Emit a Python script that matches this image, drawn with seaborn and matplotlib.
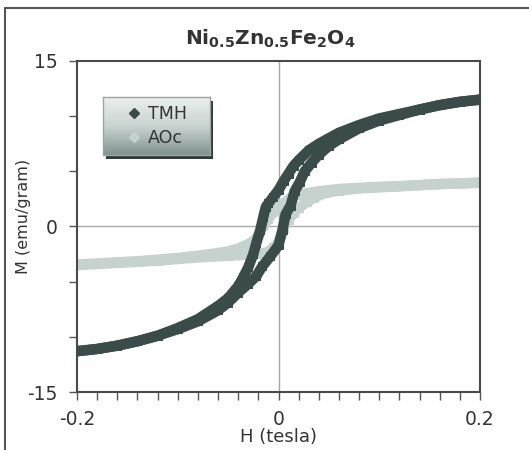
import numpy as np
import pandas as pd
import matplotlib
matplotlib.use("Agg")
import matplotlib.pyplot as plt
import seaborn as sns
from matplotlib.lines import Line2D
from matplotlib.patches import Rectangle
from matplotlib.ticker import MultipleLocator
from matplotlib.colors import LinearSegmentedColormap

# ---------------- data ----------------
series_names = ["TMH", "AOc"]
series_colors = {"TMH": "#3a4c4a", "AOc": "#c6d2ce"}

tmh_desc_H = [0.2, 0.18, 0.16, 0.14, 0.12, 0.10, 0.08, 0.06, 0.05, 0.04, 0.03, 0.02, 0.015, 0.01,
              0.005, 0.0, -0.005, -0.01, -0.0125, -0.015, -0.018, -0.022, -0.025, -0.03, -0.035,
              -0.04, -0.05, -0.06, -0.08, -0.10, -0.12, -0.14, -0.16, -0.18, -0.2]
tmh_desc_M = [11.5, 11.3, 11.0, 10.6, 10.2, 9.8, 9.2, 8.5, 8.0, 7.5, 6.9, 6.0, 5.5, 4.8,
              4.1, 3.3, 2.7, 2.1, 1.8, 0.9, -0.3, -1.5, -2.5, -3.7, -4.6,
              -5.4, -6.5, -7.2, -8.4, -9.2, -9.9, -10.4, -10.8, -11.1, -11.3]

tmh_asc_H = [-0.2, -0.18, -0.16, -0.14, -0.12, -0.10, -0.08, -0.06, -0.05, -0.04, -0.03, -0.022,
             -0.016, -0.008, 0.0, 0.004, 0.007, 0.012, 0.016, 0.021, 0.026, 0.033, 0.04, 0.05,
             0.06, 0.08, 0.10, 0.12, 0.14, 0.16, 0.18, 0.2]
tmh_asc_M = [-11.3, -11.1, -10.8, -10.4, -9.9, -9.3, -8.6, -7.6, -6.9, -6.0, -5.2, -4.5,
             -3.6, -2.7, -1.7, -0.3, 1.1, 1.9, 3.2, 4.0, 5.0, 5.8, 6.5, 7.3,
             7.9, 8.9, 9.6, 10.1, 10.6, 11.0, 11.3, 11.5]

aoc_desc_H = [0.2, 0.18, 0.16, 0.14, 0.12, 0.10, 0.08, 0.06, 0.05, 0.04, 0.03, 0.02, 0.012, 0.005,
              0.0, -0.005, -0.01, -0.015, -0.02, -0.025, -0.03, -0.04, -0.05, -0.06, -0.08,
              -0.10, -0.12, -0.14, -0.16, -0.18, -0.2]
aoc_desc_M = [4.0, 3.9, 3.85, 3.75, 3.65, 3.6, 3.5, 3.4, 3.3, 3.2, 3.05, 2.9, 2.6, 2.1,
              1.7, 1.3, 0.7, 0.0, -0.8, -1.3, -1.6, -2.0, -2.25, -2.4, -2.65,
              -2.85, -3.0, -3.15, -3.25, -3.35, -3.45]

aoc_asc_H = [-0.2, -0.18, -0.16, -0.14, -0.12, -0.10, -0.08, -0.06, -0.05, -0.04, -0.03, -0.02,
             -0.01, -0.005, 0.0, 0.005, 0.01, 0.015, 0.02, 0.028, 0.035, 0.045, 0.06, 0.08,
             0.10, 0.12, 0.14, 0.16, 0.18, 0.2]
aoc_asc_M = [-3.5, -3.4, -3.3, -3.2, -3.1, -2.95, -2.8, -2.7, -2.65, -2.6, -2.55, -2.5,
             -2.3, -1.9, -1.4, -0.1, 0.6, 1.2, 1.7, 2.2, 2.6, 3.0, 3.25, 3.45,
             3.55, 3.65, 3.75, 3.85, 3.9, 3.95]

title_text = r"$\mathbf{Ni_{0.5}Zn_{0.5}Fe_{2}O_{4}}$"
x_label = "H (tesla)"
y_label = "M (emu/gram)"
x_ticks = [-0.2, 0.0, 0.2]
x_tick_labels = ["-0.2", "0", "0.2"]
y_ticks = [-15, 0, 15]
y_tick_labels = ["-15", "0", "15"]

frames = []
for name, branch, H, M in [("AOc", "desc", aoc_desc_H, aoc_desc_M),
                           ("AOc", "asc", aoc_asc_H, aoc_asc_M),
                           ("TMH", "desc", tmh_desc_H, tmh_desc_M),
                           ("TMH", "asc", tmh_asc_H, tmh_asc_M)]:
    frames.append(pd.DataFrame({"H": H, "M": M, "series": name, "branch": branch}))
df = pd.concat(frames, ignore_index=True)

# ---------------- figure ----------------
sns.set_theme(style="white")
plt.rcParams["font.family"] = ["DejaVu Sans"]
plt.rcParams["mathtext.fontset"] = "dejavusans"

W, Hh = 529, 450
fig = plt.figure(figsize=(W / 100, Hh / 100), dpi=100)
fig.patch.set_facecolor("white")
ax = fig.add_axes([77 / W, 1 - 392 / Hh, 403 / W, 331 / Hh])
ax.set_facecolor("white")

ax.axhline(0, color="#a8a8a8", lw=1.0, zorder=0)
ax.axvline(0, color="#a8a8a8", lw=1.0, zorder=0)

for (name, branch), sub in df.groupby(["series", "branch"], sort=False):
    c = series_colors[name]
    sns.lineplot(data=sub, x="H", y="M", sort=False, estimator=None, color=c,
                 lw=7.5, marker="s", markersize=6, markeredgecolor=c,
                 ax=ax, legend=False, zorder=3 if name == "TMH" else 2)

ax.set_xlim(-0.2, 0.2)
ax.set_ylim(-15, 15)
ax.set_xticks(x_ticks)
ax.set_xticklabels(x_tick_labels)
ax.set_yticks(y_ticks)
ax.set_yticklabels(y_tick_labels)
ax.xaxis.set_minor_locator(MultipleLocator(0.02))
ax.yaxis.set_minor_locator(MultipleLocator(5))
ax.tick_params(which="both", direction="out", length=6, width=1, color="#555555",
               bottom=True, left=True, top=False, right=False)
ax.tick_params(which="major", labelsize=13.5, labelcolor="#333333")
ax.tick_params(axis="x", which="major", pad=7)
ax.tick_params(axis="y", which="major", pad=8)
ax.set_xlabel("")
ax.set_ylabel("")
for sp in ax.spines.values():
    sp.set_color("#4a4a4a")
    sp.set_linewidth(1.5)

fig.text(270 / W, 1 - 38.5 / Hh, title_text, ha="center", va="center",
         fontsize=14.5, color="#333333")
fig.text(279 / W, 1 - 437 / Hh, x_label, ha="center", va="center",
         fontsize=13, color="#333333")
fig.text(24 / W, 1 - 216 / Hh, y_label, ha="center", va="center",
         rotation=90, fontsize=11.5, color="#333333")

# outer chart frame (left and top edges visible)
fig.add_artist(Line2D([5 / W, 5 / W], [0, 1 - 8 / Hh], transform=fig.transFigure,
                      color="#555555", lw=1.5))
fig.add_artist(Line2D([5 / W, 1], [1 - 8 / Hh, 1 - 8 / Hh], transform=fig.transFigure,
                      color="#555555", lw=1.5))

# legend with gradient box and shadow
lx, ly, lw_, lh = 103, 97, 107, 58
shadow = Rectangle(((lx + 3) / W, 1 - (ly + lh + 4) / Hh), lw_ / W, lh / Hh,
                   transform=fig.transFigure, facecolor="#2e3a38", edgecolor="none",
                   zorder=1.5)
fig.add_artist(shadow)
legax = fig.add_axes([lx / W, 1 - (ly + lh) / Hh, lw_ / W, lh / Hh])
legax.set_zorder(2)
cmap = LinearSegmentedColormap.from_list("g", ["#eaefed", "#cad4d1", "#80938f"])
legax.imshow(np.linspace(0, 1, 100).reshape(-1, 1), aspect="auto", cmap=cmap,
             extent=[0, 1, 0, 1])
legax.set_xticks([])
legax.set_yticks([])
for sp in legax.spines.values():
    sp.set_color("#9aa6a3")
    sp.set_linewidth(1)
handles = [Line2D([], [], marker="D", ls="none", color=series_colors[n],
                  markeredgecolor=series_colors[n], markersize=5.5) for n in series_names]
legax.legend(handles, series_names, loc="center", frameon=False, fontsize=12.5,
             labelcolor="#333333", handletextpad=0.3, labelspacing=0.35,
             handlelength=1.0, borderpad=0.2)

fig.savefig("out.png", dpi=100)
